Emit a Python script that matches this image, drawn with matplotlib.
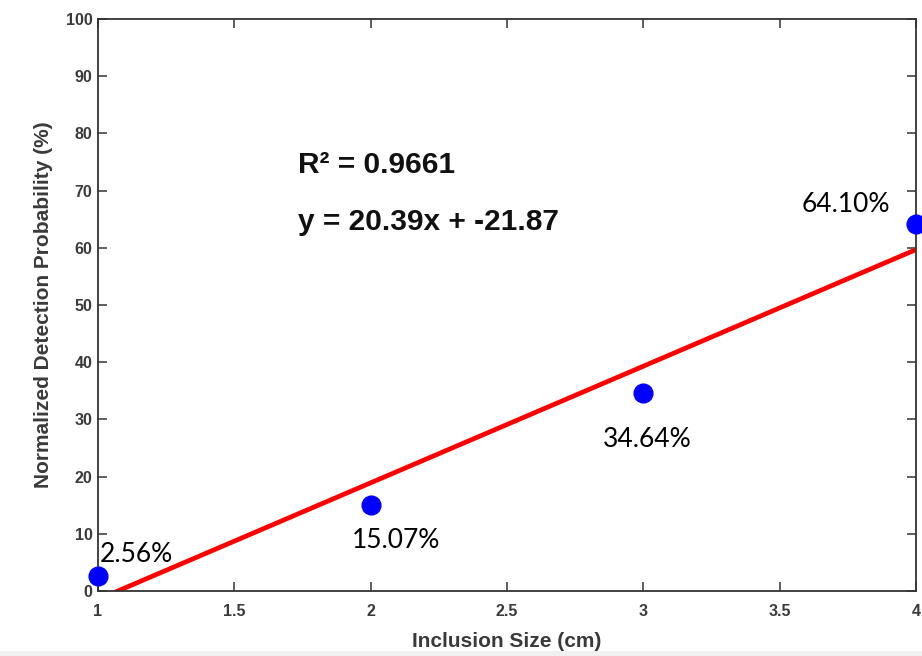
import matplotlib
matplotlib.use("Agg")
import matplotlib.pyplot as plt
import numpy as np

sizes = [1, 2, 3, 4]
probs = [2.56, 15.07, 34.64, 64.10]
labels = ["2.56%", "15.07%", "34.64%", "64.10%"]
label_pos = [(1.007, 5.1), (1.931, 7.5), (2.852, 25.2), (3.582, 66.3)]
slope, intercept = 20.39, -21.87
r2_text = "R² = 0.9661"
eq_text = "y = 20.39x + -21.87"
xticks = [1, 1.5, 2, 2.5, 3, 3.5, 4]
xticklabels = ["1", "1.5", "2", "2.5", "3", "3.5", "4"]
yticks = list(range(0, 101, 10))

W, H = 922, 656
fig = plt.figure(figsize=(W/100, H/100), dpi=100)
fig.patches.append(plt.Rectangle((0, 0), 1, 5/H, transform=fig.transFigure,
                                 facecolor="#f0f0f0", edgecolor="none", zorder=0))
ax = fig.add_axes([98/W, 1-591/H, (916-98)/W, (591-19)/H])

xs = np.array([1, 4])
ax.plot(xs, slope*xs + intercept, color="#ff0000", lw=3.4, zorder=2, solid_capstyle="butt")
ax.plot(sizes, probs, "o", color="#0000ff", ms=13.5, zorder=3, clip_on=False)

for (lx, ly), t in zip(label_pos, labels):
    ax.text(lx, ly, t, fontsize=19, family="Lato", color="black", ha="left", va="baseline", zorder=4)

ax.text(1.733, 73.1, r2_text, fontsize=21.5, family="Liberation Sans", fontweight="bold", color="#111111")
ax.text(1.733, 63.1, eq_text, fontsize=21.5, family="Liberation Sans", fontweight="bold", color="#111111")

ax.set_xlim(1, 4)
ax.set_ylim(0, 100)
ax.set_xticks(xticks)
ax.set_xticklabels(xticklabels)
ax.set_yticks(yticks)
tc = "#3a3a3a"
ax.tick_params(direction="in", length=6.5, width=1.1, color="#333333", top=True, right=True,
               labelsize=11.5, labelcolor=tc)
ax.tick_params(axis="x", pad=9)
ax.tick_params(axis="y", pad=4)
for lab in ax.get_xticklabels() + ax.get_yticklabels():
    lab.set_fontweight("bold")
    lab.set_family("Liberation Sans")
for s in ax.spines.values():
    s.set_color("#333333")
    s.set_linewidth(1.3)

ax.set_xlabel("Inclusion Size (cm)", fontsize=15, fontweight="bold", family="Liberation Sans", color=tc, labelpad=10)
ax.set_ylabel("Normalized Detection Probability (%)", fontsize=15, fontweight="bold", family="Liberation Sans", color=tc, labelpad=9)

fig.savefig("out.png", dpi=100)
